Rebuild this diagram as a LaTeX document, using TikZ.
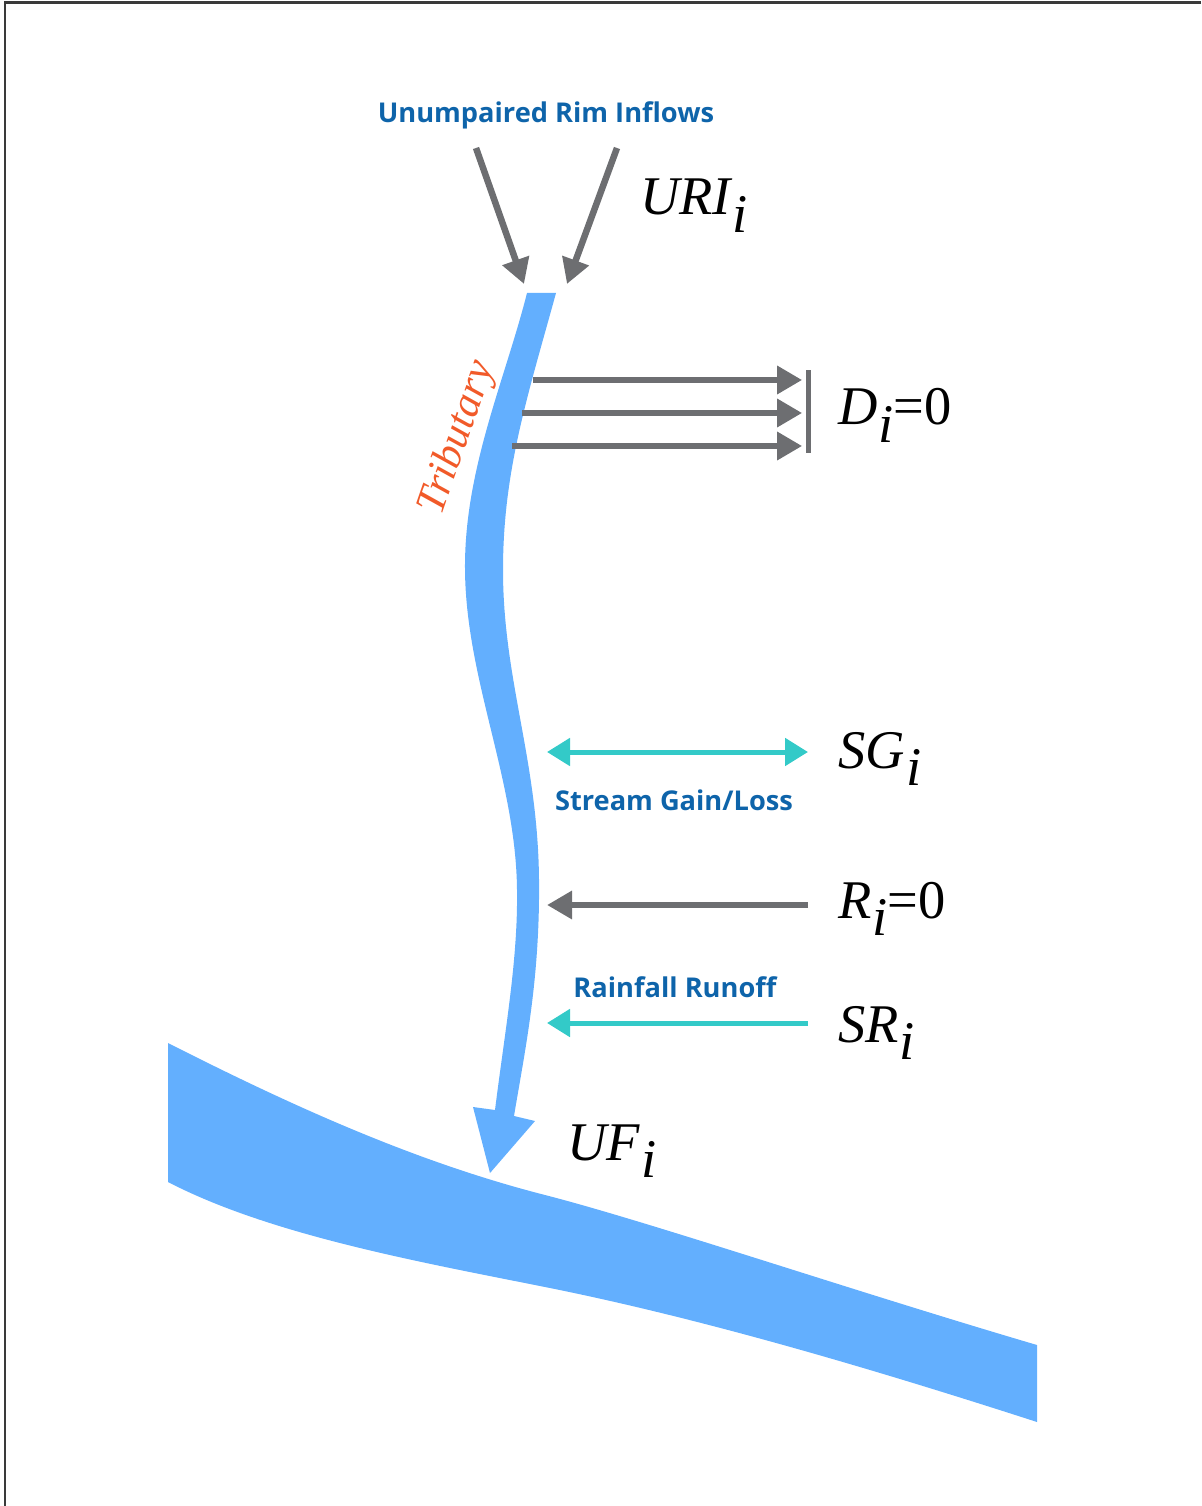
\documentclass[tikz,border=0pt]{standalone}
\usepackage{fontspec}
\newfontfamily\labelfont{Open Sans}
\newfontfamily\termfont{Liberation Serif}
\usetikzlibrary{
    arrows.meta,
    positioning
}
\definecolor{riverblue}{RGB}{99,175,254}
\definecolor{fluxgray}{RGB}{109,110,113}
\definecolor{gainteal}{RGB}{51,202,200}
\definecolor{labelblue}{RGB}{14,100,170}
\definecolor{tribred}{RGB}{241,90,41}
\definecolor{framegray}{RGB}{58,58,58}
\newcommand{\idx}{\kern0.02em\raisebox{-0.32em}{\itshape i}}
\tikzstyle{flux} = [
    ->,
    >={Triangle[length=0.5cm, width=0.54cm]},
    line width=0.13cm,
    draw=fluxgray
]
\tikzstyle{exchange} = [
    >={Triangle[length=0.46cm, width=0.54cm]},
    line width=0.1cm,
    draw=gainteal
]
\tikzstyle{caption} = [
    anchor=base,
    inner sep=0pt,
    text=labelblue,
    font={\labelfont\bfseries\fontsize{15.5}{18}\selectfont}
]
\tikzstyle{term} = [
    anchor=base west,
    inner sep=0pt,
    font={\termfont\fontsize{31}{36}\selectfont}
]
\tikzstyle{water} = [
    fill=riverblue
]
\begin{document}
\begin{tikzpicture}[x=0.02cm, y=-0.02cm]
        \useasboundingbox (0,0) rectangle (1201,1506);
        % Frame
        \draw[framegray, line width=0.06cm] (1201,3) -- (5,3) -- (5,1506);

        % Main river
        \fill[water] (168,1043) .. controls (300,1110) and (420,1163) .. (545,1195)
            .. controls (650,1222) and (850,1290) .. (1037,1345)
            -- (1037,1422) .. controls (870,1368) and (700,1318) .. (545,1287)
            .. controls (420,1262) and (270,1235) .. (168,1182)
            -- cycle;

        % Tributary
        \fill[water] (556,293) .. controls (528,395) and (503,470) .. (503,570)
            .. controls (503,680) and (538,760) .. (539,880)
            .. controls (540,980) and (525,1050) .. (514,1116)
            -- (535,1121) -- (490,1173) -- (473,1107) -- (495,1110)
            .. controls (505,1030) and (518,960) .. (517,890)
            .. controls (516,780) and (466,680) .. (465,570)
            .. controls (464,470) and (505,380) .. (527,293)
            -- cycle;
        \node[rotate=71, text=tribred, font={\termfont\itshape\fontsize{24}{29}\selectfont}] (tribname) at (458,438) {Tributary};

        % Rim inflows
        \node[caption] (rimname) at (546,123) {Unumpaired Rim Inflows};
        \coordinate (rimL) at (476,148);
        \coordinate (rimLend) at (524,284);
        \coordinate (rimR) at (617,148);
        \coordinate (rimRend) at (567,284);
        \draw[flux] (rimL) -- (rimLend);
        \draw[flux] (rimR) -- (rimRend);
        \node[term] (uri) at (640,215) {\itshape URI\idx};

        % Diversions
        \node[fill=fluxgray, minimum width=0.1cm, minimum height=1.66cm, inner sep=0pt] (dam) at (808,411.5) {};
        \coordinate (div1) at (533,380);
        \coordinate (div2) at (522,413);
        \coordinate (div3) at (512,446);
        \draw[flux, shorten >=0.06cm] (div1) -- (div1 -| dam.west);
        \draw[flux, shorten >=0.06cm] (div2) -- (div2 -| dam.west);
        \draw[flux, shorten >=0.06cm] (div3) -- (div3 -| dam.west);
        \node[term] (dterm) at (838,425) {{\itshape D\idx}=0};

        % Stream gain/loss
        \coordinate (sgL) at (547,752);
        \coordinate (sgR) at (808,752);
        \draw[exchange, <->] (sgL) -- (sgR);
        \node[term] (sgterm) at (838,768) {\itshape SG\idx};
        \node[caption] (sgname) at (674,810) {Stream Gain/Loss};

        % Return flows
        \coordinate (rStart) at (808,905);
        \coordinate (rEnd) at (547,905);
        \draw[flux] (rStart) -- (rEnd);
        \node[term] (rterm) at (838,918) {{\itshape R\idx}=0};

        % Rainfall runoff
        \node[caption] (srname) at (675,997) {Rainfall Runoff};
        \coordinate (srStart) at (808,1023);
        \coordinate (srEnd) at (547,1023);
        \draw[exchange, ->] (srStart) -- (srEnd);
        \node[term] (srterm) at (838,1042) {\itshape SR\idx};

        % Unimpaired flow
        \node[term] (ufterm) at (567,1160) {\itshape UF\idx};
    \end{tikzpicture}
\end{document}
